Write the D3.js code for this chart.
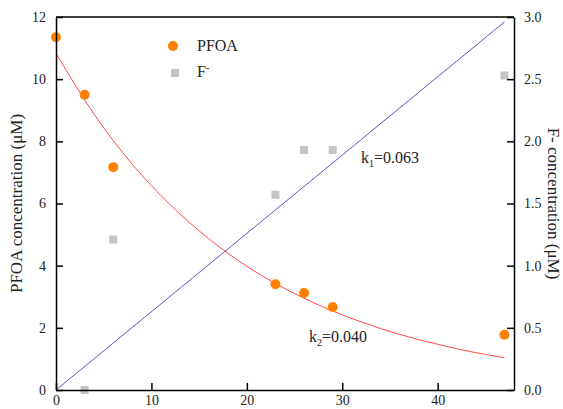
<!DOCTYPE html>
<html><head><meta charset="utf-8">
<script src="https://cdn.jsdelivr.net/npm/d3@7"></script>
<style>body{margin:0;background:#fff}svg{display:block}</style>
</head><body>
<script>
const timeMin = [0, 3, 6, 23, 26, 29, 47];
const pfoa = [11.35, 9.5, 7.17, 3.4, 3.12, 2.67, 1.78];
const fluoride = [0, 1.21, 1.57, 1.93, 1.93, 2.53];
const fluorideTime = [3, 6, 23, 26, 29, 47];
const fitPfoaX = [0, 4, 8, 12, 16, 20, 24, 28, 32, 36, 40, 44, 47];
const fitPfoaY = [10.83, 8.87, 7.26, 5.95, 4.87, 3.98, 3.26, 2.67, 2.19, 1.79, 1.47, 1.20, 1.04];
const fitFX = [0, 47];
const fitFY = [0, 2.96];
const xTicks = [0, 10, 20, 30, 40];
const yLeftTicks = [0, 2, 4, 6, 8, 10, 12];
const yRightTicks = [0, 0.5, 1.0, 1.5, 2.0, 2.5, 3.0];

const W = 563, H = 409;
const m = {l: 56, r: 49, t: 17, b: 19};
const svg = d3.select("body").append("svg").attr("width", W).attr("height", H);
const x = d3.scaleLinear().domain([0, 48]).range([m.l, W - m.r]);
const yL = d3.scaleLinear().domain([0, 12]).range([H - m.b, m.t]);
const yR = d3.scaleLinear().domain([0, 3]).range([H - m.b, m.t]);
const font = "'Liberation Serif', 'Times New Roman', serif";

// fitted lines
const lineL = d3.line().x((d, i) => x(fitPfoaX[i])).y(d => yL(d)).curve(d3.curveMonotoneX);
svg.append("path").attr("d", lineL(fitPfoaY)).attr("fill", "none").attr("stroke", "#ff4a4a").attr("stroke-width", 1);
const lineR = d3.line().x((d, i) => x(fitFX[i])).y(d => yR(d));
svg.append("path").attr("d", lineR(fitFY)).attr("fill", "none").attr("stroke", "#5a5ac8").attr("stroke-width", 1);

// F- squares
svg.selectAll("rect.f").data(fluoride).enter().append("rect").attr("class", "f")
  .attr("x", (d, i) => x(fluorideTime[i]) - 4).attr("y", d => yR(d) - 4)
  .attr("width", 8).attr("height", 8).attr("fill", "#c4c4c4");
// PFOA dots
svg.selectAll("circle.p").data(pfoa).enter().append("circle").attr("class", "p")
  .attr("cx", (d, i) => x(timeMin[i])).attr("cy", d => yL(d)).attr("r", 5).attr("fill", "#ff8000");

// axes
function styleAxis(g) {
  g.selectAll("path").attr("stroke", "#000").attr("stroke-width", 1.5);
  g.selectAll("line").attr("stroke", "#000").attr("stroke-width", 1.5);
  g.selectAll("text").attr("font-family", font).attr("font-size", 14).attr("fill", "#222");
}
const gx = svg.append("g").attr("transform", `translate(0,${H - m.b})`)
  .call(d3.axisBottom(x).tickValues(xTicks).tickSize(-7).tickSizeOuter(0).tickPadding(5).tickFormat(d3.format("d")));
styleAxis(gx);
const gl = svg.append("g").attr("transform", `translate(${m.l},0)`)
  .call(d3.axisLeft(yL).tickValues(yLeftTicks).tickSize(-7).tickSizeOuter(0).tickPadding(10).tickFormat(d3.format("d")));
styleAxis(gl);
const gr = svg.append("g").attr("transform", `translate(${W - m.r},0)`)
  .call(d3.axisRight(yR).tickValues(yRightTicks).tickSize(-7).tickSizeOuter(0).tickPadding(10).tickFormat(d3.format(".1f")));
styleAxis(gr);
svg.append("line").attr("x1", m.l).attr("x2", W - m.r).attr("y1", m.t).attr("y2", m.t)
  .attr("stroke", "#000").attr("stroke-width", 1.5);

// axis titles
svg.append("text").attr("transform", `translate(22,${(m.t + H - m.b) / 2}) rotate(-90)`)
  .attr("text-anchor", "middle").attr("font-family", font).attr("font-size", 17).attr("fill", "#222")
  .text("PFOA concentration (μM)");
svg.append("text").attr("transform", `translate(548,${(m.t + H - m.b) / 2}) rotate(90)`)
  .attr("text-anchor", "middle").attr("font-family", font).attr("font-size", 17).attr("fill", "#222")
  .text("F- concentration (μM)");

// legend
svg.append("circle").attr("cx", 173).attr("cy", 46).attr("r", 5).attr("fill", "#ff8000");
svg.append("text").attr("x", 197).attr("y", 51).attr("font-family", font).attr("font-size", 16).attr("fill", "#222").text("PFOA");
svg.append("rect").attr("x", 171).attr("y", 69).attr("width", 8).attr("height", 8).attr("fill", "#c4c4c4");
const fl = svg.append("text").attr("x", 197).attr("y", 77).attr("font-family", font).attr("font-size", 16).attr("fill", "#222");
fl.append("tspan").text("F");
fl.append("tspan").attr("dy", -6).attr("font-size", 10).text("-");

// k labels
function kLabel(xp, yp, sub, val) {
  const t = svg.append("text").attr("x", xp).attr("y", yp).attr("font-family", font).attr("font-size", 16).attr("fill", "#222");
  t.append("tspan").text("k");
  t.append("tspan").attr("dy", 4).attr("font-size", 10).text(sub);
  t.append("tspan").attr("dy", -4).text("=" + val);
}
kLabel(361, 163, "1", "0.063");
kLabel(309, 342, "2", "0.040");
</script>
</body></html>
